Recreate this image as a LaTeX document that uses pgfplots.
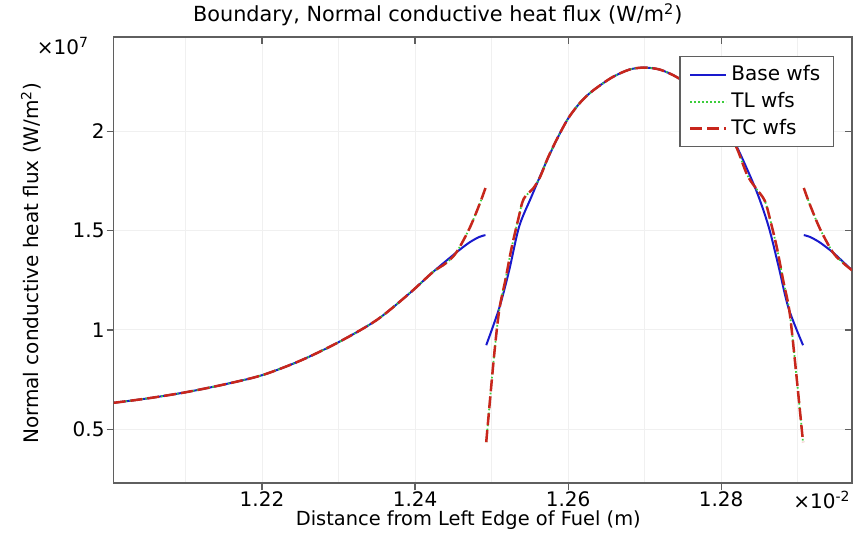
\documentclass[border=0pt]{standalone}
\usepackage{fontspec}
\setmainfont{DejaVu Sans}
\usepackage{pgfplots}
\usepackage{pgfplotstable}
\pgfplotsset{compat=1.18}

\definecolor{basecol}{RGB}{25,25,205}
\definecolor{tlcol}{RGB}{60,205,60}
\definecolor{tccol}{RGB}{200,38,28}
\definecolor{framecol}{RGB}{95,95,95}

% x in 1e-2 m, y in 1e7 W/m^2; nan rows break the curve
\pgfplotstableread{
x y
1.2006 0.633
1.2050 0.655
1.2100 0.686
1.2150 0.725
1.2200 0.772
1.2250 0.845
1.2300 0.938
1.2350 1.050
1.2393 1.185
1.2423 1.290
1.2454 1.390
1.2471 1.440
1.2484 1.468
1.2492 1.477
1.24925 nan
1.2493 0.923
1.2510 1.110
1.2523 1.300
1.2536 1.520
1.2552 1.670
1.2572 1.850
1.2588 1.980
1.2601 2.070
1.2616 2.145
1.2631 2.200
1.2657 2.270
1.2680 2.310
1.2699 2.320
1.2720 2.310
1.2743 2.270
1.2768 2.200
1.2783 2.145
1.2798 2.070
1.2811 1.980
1.2822 1.910
1.2846 1.700
1.2862 1.520
1.2875 1.320
1.2888 1.110
1.2907 0.923
1.29075 nan
1.2908 1.477
1.2916 1.468
1.2929 1.440
1.2946 1.390
1.2960 1.340
1.2971 1.300
}\basewfs

\pgfplotstableread{
x y
1.2006 0.633
1.2050 0.655
1.2100 0.686
1.2150 0.725
1.2200 0.772
1.2250 0.845
1.2300 0.938
1.2350 1.050
1.2393 1.185
1.2423 1.290
1.2440 1.335
1.2454 1.390
1.2471 1.510
1.2484 1.630
1.2492 1.714
1.24925 nan
1.2493 0.435
1.2503 0.860
1.2510 1.100
1.2518 1.250
1.2526 1.410
1.2535 1.560
1.2542 1.660
1.2555 1.715
1.2564 1.775
1.2574 1.870
1.2588 1.980
1.2601 2.070
1.2616 2.145
1.2631 2.200
1.2657 2.270
1.2680 2.310
1.2699 2.320
1.2720 2.310
1.2743 2.270
1.2768 2.200
1.2783 2.145
1.2798 2.070
1.2811 1.980
1.2821 1.910
1.2834 1.780
1.2845 1.715
1.2857 1.650
1.2865 1.540
1.2873 1.410
1.2881 1.250
1.2889 1.100
1.2896 0.860
1.2907 0.435
1.29075 nan
1.2908 1.714
1.2916 1.630
1.2929 1.510
1.2946 1.390
1.2960 1.335
1.2971 1.300
}\tcwfs

\begin{document}
\begin{tikzpicture}[font=\fontsize{10}{12}\selectfont]
\begin{axis}[
  at={(0,0)}, anchor=south west,
  scale only axis,
  width=369pt, height=223pt,
  xmin=1.2006, xmax=1.2971,
  ymin=0.228, ymax=2.474,
  unbounded coords=jump,
  scaled ticks=false,
  xtick={1.22,1.24,1.26,1.28},
  xticklabels={1.22,1.24,1.26,1.28},
  minor xtick={1.21,1.23,1.25,1.27,1.29},
  ytick={0.5,1,1.5,2},
  yticklabels={0.5,1,1.5,2},
  xtick pos=left, ytick pos=left,
  tick align=outside,
  major tick length=3.5pt, minor tick length=0pt,
  tick style={framecol, line width=0.6pt},
  axis line style={framecol, line width=0.8pt},
  xmajorgrids, xminorgrids, ymajorgrids,
  major grid style={black!6, line width=0.5pt},
  minor grid style={black!6, line width=0.5pt},
  xticklabel style={inner ysep=0.5pt},
  yticklabel style={inner xsep=0.8pt},
  legend cell align=left,
  legend image code/.code={\draw[#1] (0pt,0pt) -- (18pt,0pt);},
  legend style={at={(0.9756,0.9574)}, anchor=north east,
    draw=framecol, line width=0.7pt, inner xsep=4.5pt, inner ysep=2.5pt,
    row sep=0.3pt, font=\fontsize{10}{12}\selectfont},
]
\addplot[basecol, line width=1pt, smooth, tension=0.5] table[x=x, y=y] {\basewfs};
\addlegendentry{Base wfs}
\addplot[tlcol, line width=0.9pt, dash pattern=on 0.8pt off 1.2pt, smooth, tension=0.5] table[x=x, y=y] {\tcwfs};
\addlegendentry{TL wfs}
\addplot[tccol, line width=1.25pt, dash pattern=on 6pt off 2.5pt, smooth, tension=0.5] table[x=x, y=y] {\tcwfs};
\addlegendentry{TC wfs}
\end{axis}
% inward ticks on top and right, as in the original
\begin{axis}[
  at={(0,0)}, anchor=south west,
  scale only axis,
  width=369pt, height=223pt,
  xmin=1.2006, xmax=1.2971,
  ymin=0.228, ymax=2.474,
  axis x line*=top, axis y line*=right,
  axis line style={draw=none},
  xtick={1.22,1.24,1.26,1.28}, ytick={0.5,1,1.5,2},
  xticklabels={}, yticklabels={},
  tick align=inside, major tick length=3.5pt,
  tick style={framecol, line width=0.6pt},
]
\end{axis}
\node[font=\fontsize{10.4}{12}\selectfont] at (162pt,234pt) {Boundary, Normal conductive heat flux (W/m\textsuperscript{2})};
\node[rotate=90] at (-41.25pt,110pt) {Normal conductive heat flux (W/m\textsuperscript{2})};
\node[font=\fontsize{9.7}{12}\selectfont] at (177.25pt,-18.5pt) {Distance from Left Edge of Fuel (m)};
\node at (-25.25pt,218.5pt) {×10\textsuperscript{7}};
\node at (354pt,-8.5pt) {×10\textsuperscript{-2}};
\pgfresetboundingbox
\useasboundingbox (-56.75pt,-24.5pt) rectangle (370.5pt,241.5pt);
\end{tikzpicture}
\end{document}
